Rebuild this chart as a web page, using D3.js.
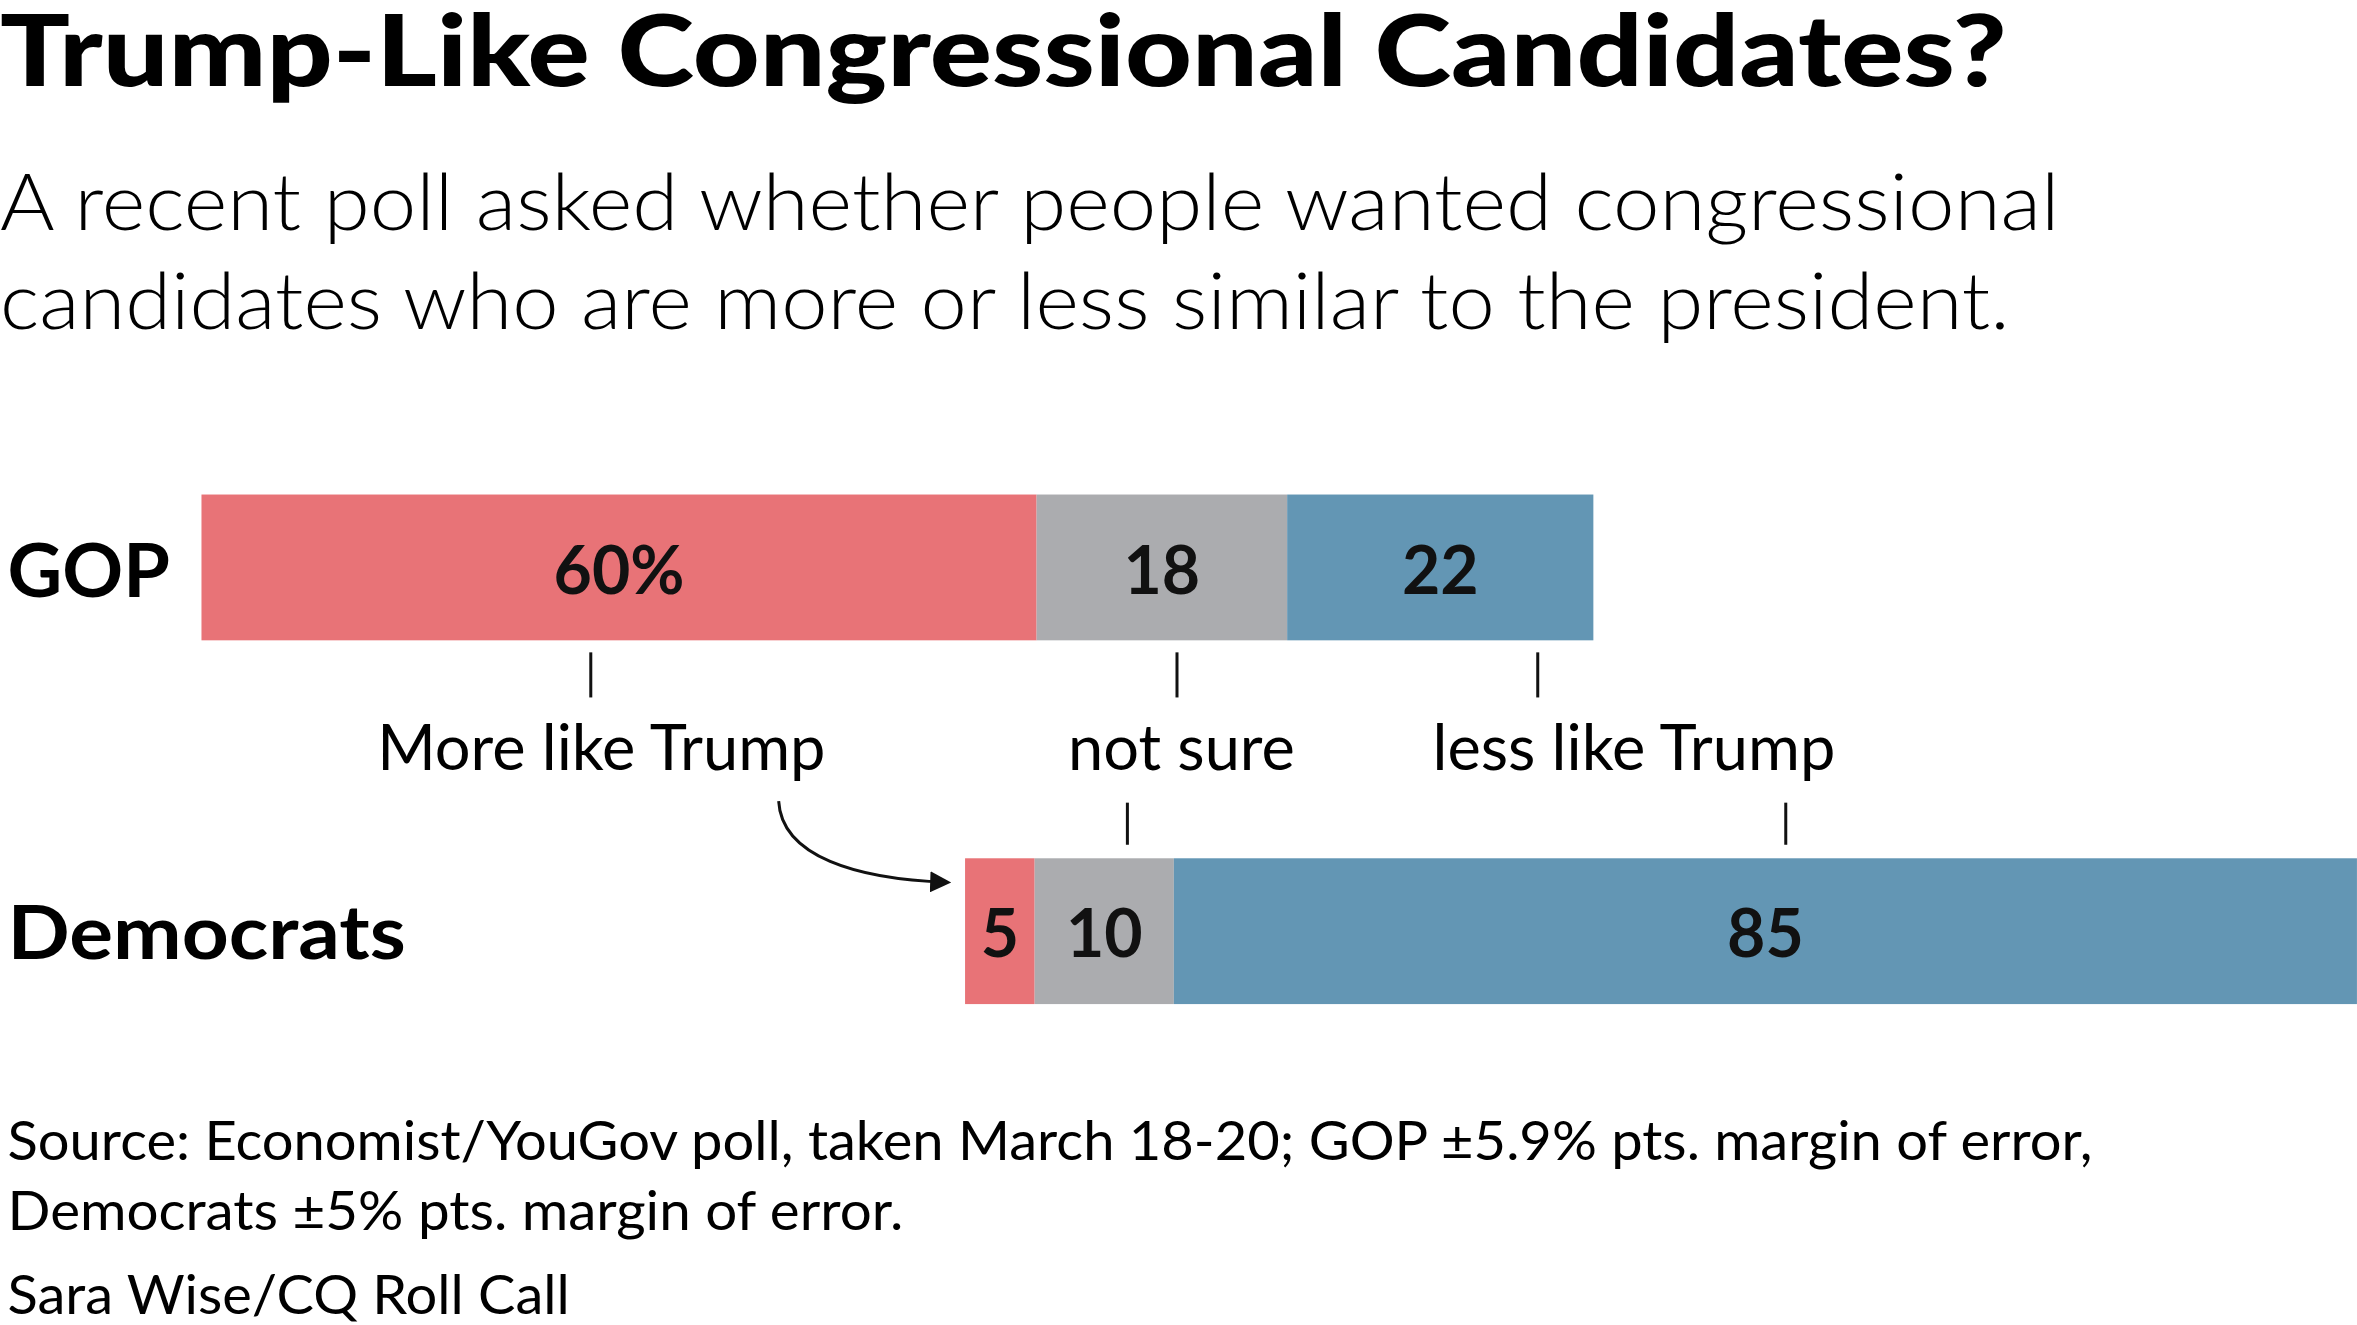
<!DOCTYPE html>
<html>
<head>
<meta charset="utf-8">
<script src="https://cdn.jsdelivr.net/npm/d3@7"></script>
<style>
  body { margin: 0; background: #fff; }
  text { font-family: Lato, "Open Sans", sans-serif; }
</style>
</head>
<body>
<div id="chart"></div>
<script>
// Data
const categories = ["More like Trump", "not sure", "less like Trump"];
const parties = ["GOP", "Democrats"];
const gopValues = [60, 18, 22];
const demValues = [5, 10, 85];
const valueLabels = [["60%", "18", "22"], ["5", "10", "85"]];

const Colors = ["#e87377", "#abacaf", "#6396b4"];

// Drawn in a 1568-wide coordinate system, scaled up to the window.
const W = 1568, H = 881.5;

const svg = d3.select("#chart")
    .append("svg")
        .attr("width", 2357)
        .attr("height", 1325)
        .attr("viewBox", `0 0 ${W} ${H}`);

const x = d3.scaleLinear().domain([0, 100]).range([0, 926]);

// Title + subtitle
svg.append("text")
    .attr("x", 0).attr("y", 57)
    .attr("textLength", 1335).attr("lengthAdjust", "spacingAndGlyphs")
    .style("font-size", "66px").style("font-weight", 900)
    .text("Trump-Like Congressional Candidates?");
[["A recent poll asked whether people wanted congressional", 1370],
 ["candidates who are more or less similar to the president.", 1337]].forEach(([t, len], i) => {
    svg.append("text")
        .attr("x", 0).attr("y", 153 + i * 66)
        .attr("textLength", len).attr("lengthAdjust", "spacingAndGlyphs")
        .style("font-size", "52px").style("font-weight", 300)
        .text(t);
});

// Bars
const rows = [
    { name: parties[0], values: gopValues, x0: 134, y: 329, labelY: 397, nameLen: 108 },
    { name: parties[1], values: demValues, x0: 642, y: 571, labelY: 638, nameLen: 265 },
];

rows.forEach((row, ri) => {
    const starts = d3.cumsum([0].concat(row.values)).slice(0, -1);
    const g = svg.append("g").attr("transform", `translate(${row.x0},${row.y})`);
    g.selectAll("rect")
        .data(row.values)
        .join("rect")
            .attr("x", (d, i) => x(starts[i]))
            .attr("y", 0)
            .attr("width", d => x(d))
            .attr("height", 97)
            .attr("fill", (d, i) => Colors[i]);
    g.selectAll("text")
        .data(row.values)
        .join("text")
            .attr("x", (d, i) => x(starts[i] + d / 2))
            .attr("y", 66)
            .attr("text-anchor", "middle")
            .style("font-size", "44px").style("font-weight", 700)
            .style("fill", "#111")
            .text((d, i) => valueLabels[ri][i]);
    svg.append("text")
        .attr("x", 5).attr("y", row.labelY)
        .attr("textLength", row.nameLen).attr("lengthAdjust", "spacingAndGlyphs")
        .style("font-size", "50px").style("font-weight", 700)
        .text(row.name);
});

// Category labels with ticks
const gopTicks = [393, 783, 1023];
const labelX = [400, 786, 1087];
gopTicks.forEach(t => {
    svg.append("line").attr("x1", t).attr("x2", t).attr("y1", 434).attr("y2", 464)
        .attr("stroke", "#111").attr("stroke-width", 2);
});
categories.forEach((c, i) => {
    svg.append("text")
        .attr("x", labelX[i]).attr("y", 512)
        .attr("text-anchor", "middle")
        .style("font-size", "42px").style("font-weight", 400)
        .text(c);
});
[750, 1188].forEach(t => {
    svg.append("line").attr("x1", t).attr("x2", t).attr("y1", 534).attr("y2", 562)
        .attr("stroke", "#111").attr("stroke-width", 2);
});

// Arrow
svg.append("defs").append("marker")
    .attr("id", "arrow").attr("viewBox", "0 0 10 10")
    .attr("refX", 8).attr("refY", 5)
    .attr("markerWidth", 7).attr("markerHeight", 7)
    .attr("orient", "auto")
    .append("path").attr("d", "M0,0 L10,5 L0,10 Z").attr("fill", "#111");
svg.append("path")
    .attr("d", "M518,533 C520,570 570,585 630,587")
    .attr("fill", "none").attr("stroke", "#111").attr("stroke-width", 2)
    .attr("marker-end", "url(#arrow)");

// Source + credit
[["Source: Economist/YouGov poll, taken March 18-20; GOP ±5.9% pts. margin of error,", 1387],
 ["Democrats ±5% pts. margin of error.", 596]].forEach(([t, len], i) => {
    svg.append("text")
        .attr("x", 5).attr("y", 772 + i * 46)
        .attr("textLength", len).attr("lengthAdjust", "spacingAndGlyphs")
        .style("font-size", "36px").style("font-weight", 400)
        .text(t);
});
svg.append("text")
    .attr("x", 5).attr("y", 874)
    .attr("textLength", 374).attr("lengthAdjust", "spacingAndGlyphs")
    .style("font-size", "36px").style("font-weight", 400)
    .text("Sara Wise/CQ Roll Call");
</script>
</body>
</html>
